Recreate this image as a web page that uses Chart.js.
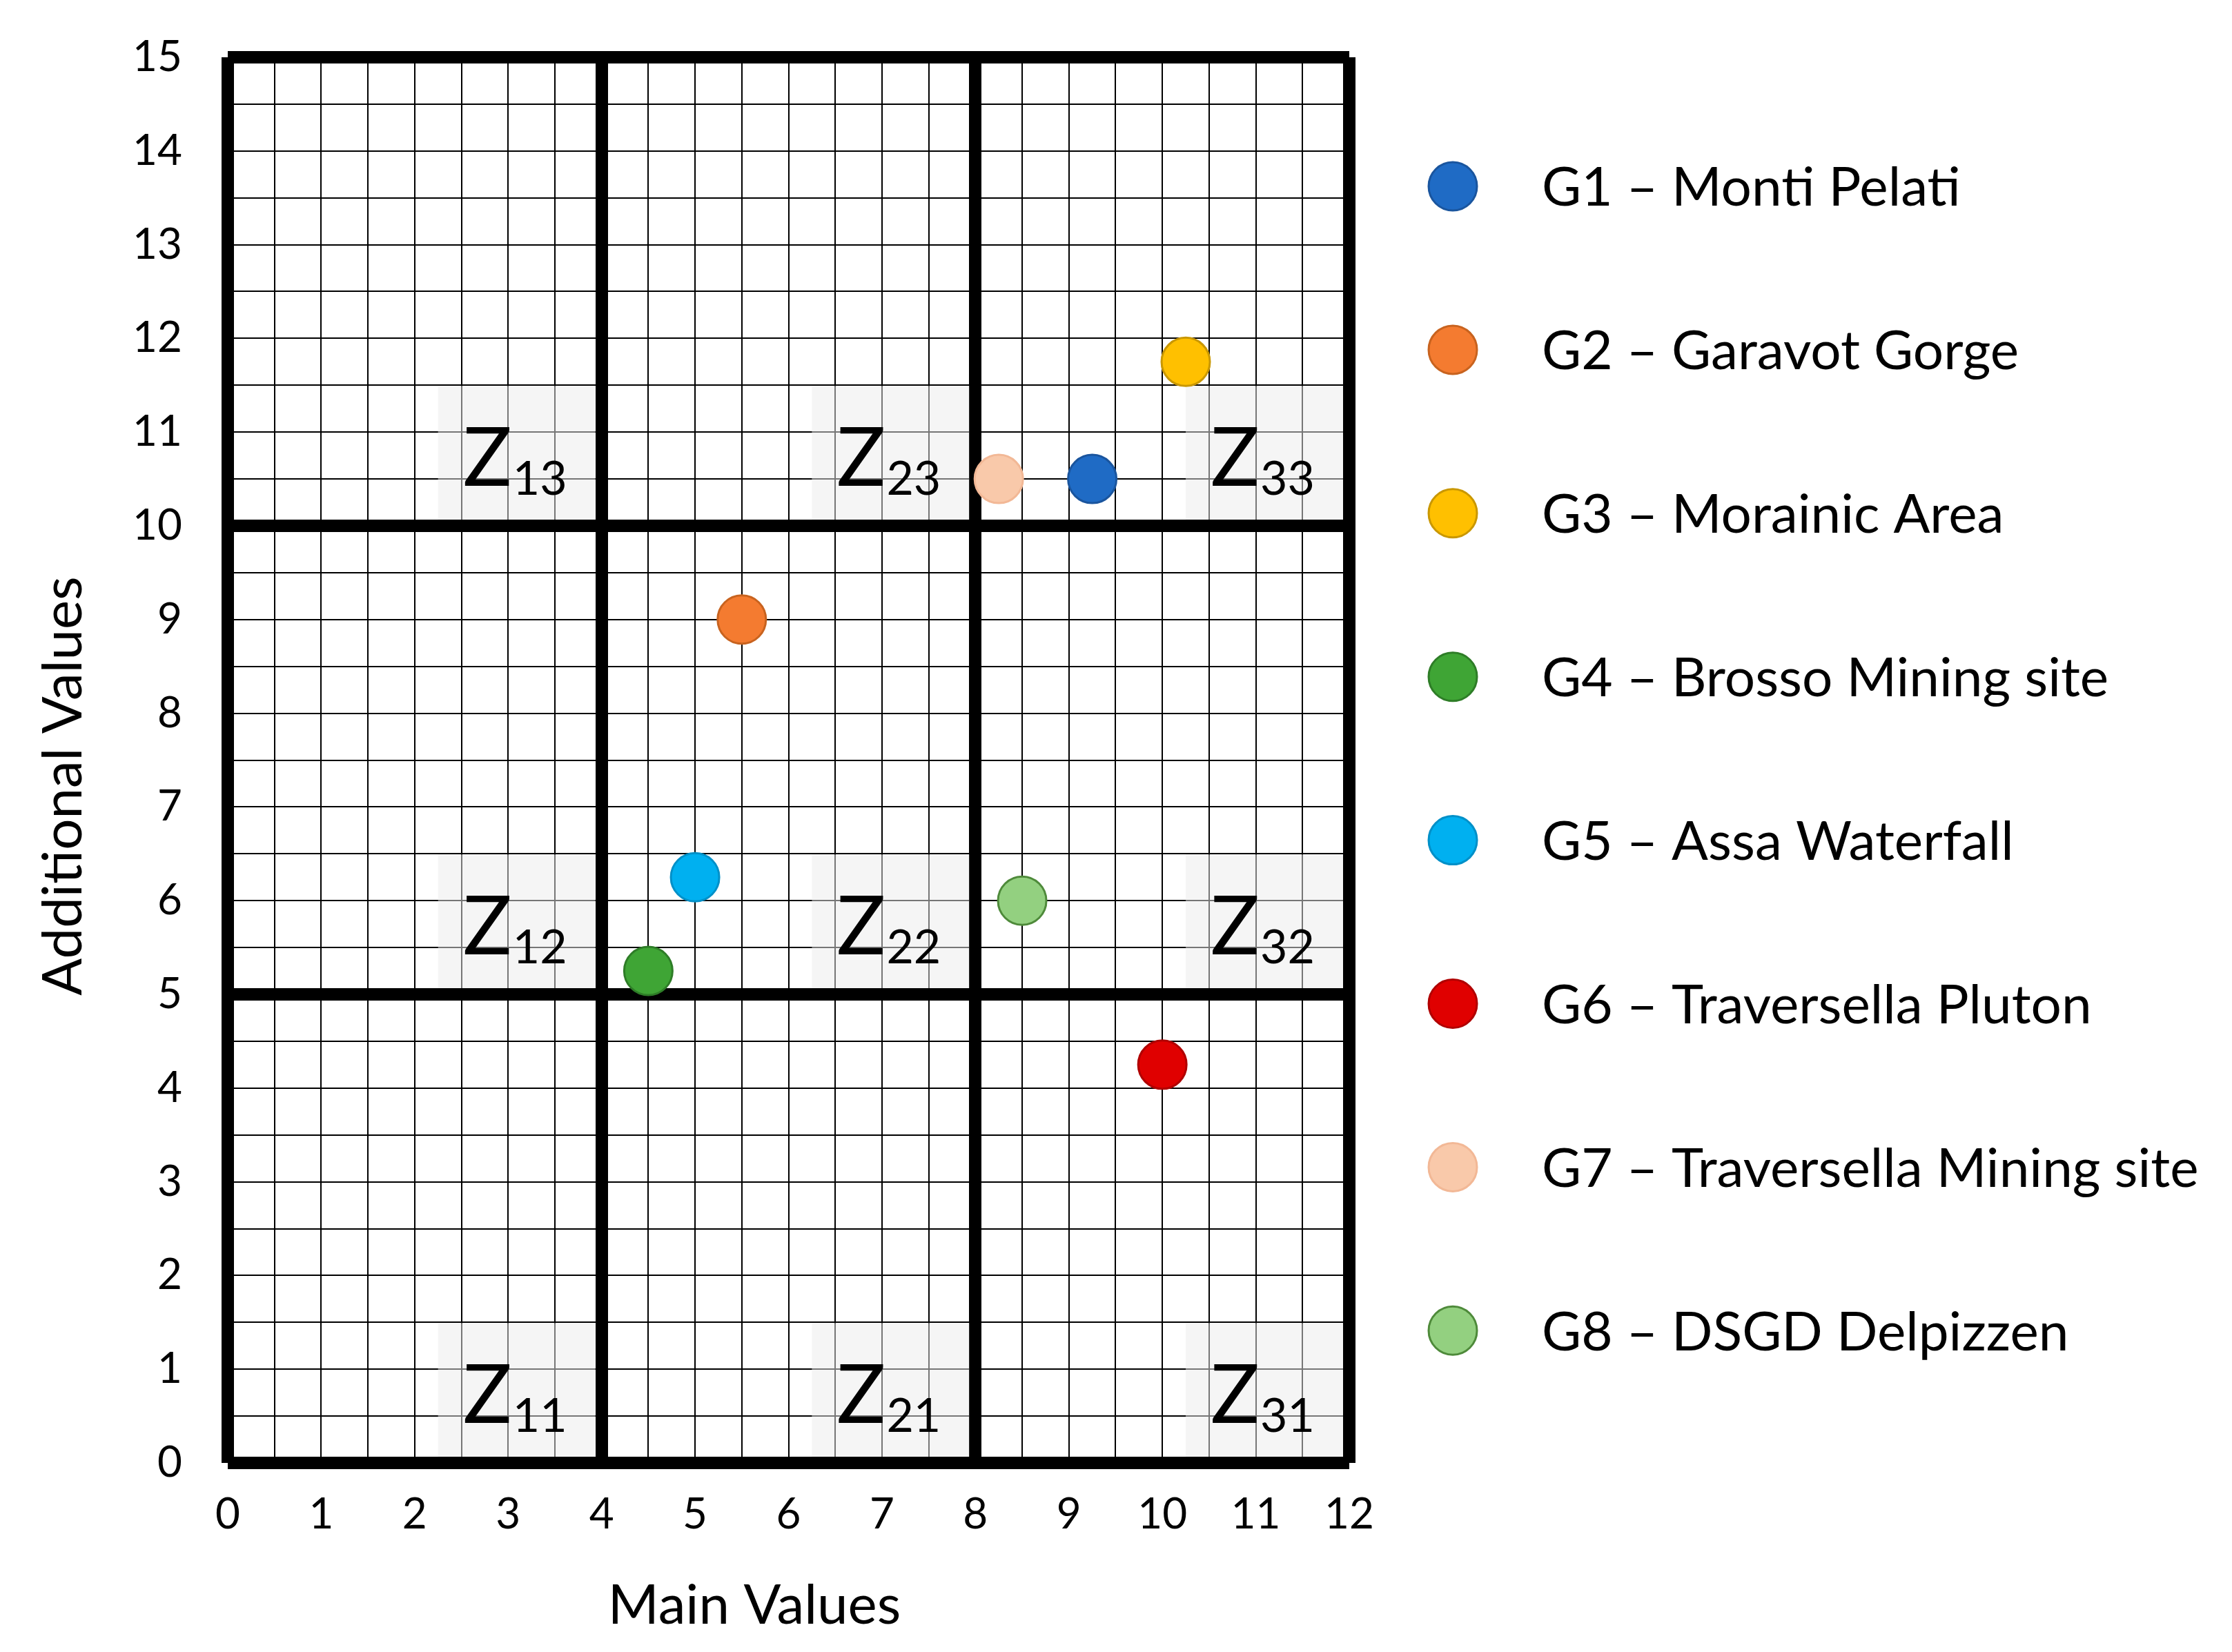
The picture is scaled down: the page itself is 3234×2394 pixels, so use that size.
<!DOCTYPE html>
<html><head><meta charset="utf-8">
<script src="https://cdn.jsdelivr.net/npm/chart.js@4"></script>
<style>html,body{margin:0;padding:0;background:#fff;overflow:hidden}canvas{display:block}</style>
</head><body>
<canvas id="c" width="3234" height="2394"></canvas>
<script>
// ---- data ----
const seriesNames = ['G1 – Monti Pelati','G2 – Garavot Gorge','G3 – Morainic Area','G4 – Brosso Mining site','G5 – Assa Waterfall','G6 – Traversella Pluton','G7 – Traversella Mining site','G8 – DSGD Delpizzen'];
const seriesX = [9.25, 5.5, 10.25, 4.5, 5.0, 10.0, 8.25, 8.5];
const seriesY = [10.5, 9.0, 11.75, 5.25, 6.25, 4.25, 10.5, 6.0];
const fillColors = ['#1F6BC5','#F47B30','#FFC000','#3FA535','#00B0F0','#E00000','#F9C9AA','#93D080'];
const borderColors = ['#1A559E','#C8631F','#C99700','#2E7D27','#0090C8','#B00000','#F2B896','#4E8A3A'];
const xTickValues = [0,1,2,3,4,5,6,7,8,9,10,11,12];
const yTickValues = [0,1,2,3,4,5,6,7,8,9,10,11,12,13,14,15];
const majorX = [0,4,8,12];
const majorY = [0,5,10,15];
const zoneCols = [1,2,3];
const zoneRows = [1,2,3];
const xTitle = 'Main Values';
const yTitle = 'Additional Values';

const FONT = 'Lato';
const AREA = { left: 330, top: 83, right: 1955, bottom: 2120 };
const mctx = document.createElement('canvas').getContext('2d');
function fitSize(text, target){ mctx.font = '100px ' + FONT; return 100 * target / mctx.measureText(text).width; }
const legendSize = fitSize(seriesNames[6], 952);
const titleSize = (fitSize(xTitle, 424) + fitSize(yTitle, 608)) / 2;

const datasets = seriesNames.map((n,i)=>({
  label: n,
  data: [{x: seriesX[i], y: seriesY[i]}],
  backgroundColor: fillColors[i],
  borderColor: borderColors[i],
  borderWidth: 3,
  pointRadius: 35,
  pointHoverRadius: 35
}));

const zonePlugin = {
  id: 'zones',
  beforeDatasetsDraw(chart){
    const {ctx, scales:{x, y}} = chart;
    ctx.save();
    zoneCols.forEach((c,ci)=>{
      zoneRows.forEach((r,ri)=>{
        const xEnd = majorX[ci+1], yStart = majorY[ri];
        const x0 = x.getPixelForValue(xEnd - 1.75), x1 = x.getPixelForValue(xEnd) - 9;
        const y0 = y.getPixelForValue(yStart + 1.5) + 1, y1 = y.getPixelForValue(yStart) - 9;
        ctx.fillStyle = 'rgba(235,235,235,0.5)';
        ctx.fillRect(x0, y0, x1 - x0, y1 - y0);
        ctx.fillStyle = '#000';
        ctx.textAlign = 'left';
        ctx.textBaseline = 'alphabetic';
        const zx = x0 + 36, zy = y.getPixelForValue(yStart) - 58;
        ctx.font = '118px ' + FONT;
        ctx.fillText('Z', zx, zy);
        const zw = ctx.measureText('Z').width;
        ctx.font = '68px ' + FONT;
        ctx.fillText(String(c) + String(r), zx + zw + 1, zy + 13);
      });
    });
    ctx.restore();
  }
};

const sidePlugin = {
  id: 'sideLegendAndTitles',
  afterDraw(chart){
    const ctx = chart.ctx;
    ctx.save();
    chart.data.datasets.forEach((ds,i)=>{
      const cy = 270 + i * 236.9;
      ctx.beginPath();
      ctx.arc(2105, cy, 35, 0, Math.PI*2);
      ctx.fillStyle = ds.backgroundColor; ctx.fill();
      ctx.lineWidth = 3; ctx.strokeStyle = ds.borderColor; ctx.stroke();
      ctx.fillStyle = '#000';
      ctx.font = legendSize.toFixed(1) + 'px ' + FONT;
      ctx.textAlign = 'left'; ctx.textBaseline = 'alphabetic';
      ctx.fillText(ds.label, 2234, cy + 0.36 * legendSize);
    });
    // axis titles
    ctx.fillStyle = '#000';
    ctx.font = titleSize.toFixed(1) + 'px ' + FONT;
    ctx.textAlign = 'center'; ctx.textBaseline = 'alphabetic';
    ctx.fillText(xTitle, 1093, 2324 + 0.36 * titleSize);
    ctx.translate(89 + 0.36 * titleSize, 1139);
    ctx.rotate(-Math.PI / 2);
    ctx.fillText(yTitle, 0, 0);
    ctx.restore();
  }
};

function gridWidth(majors){
  return (c) => (c.tick && majors.includes(c.tick.value)) ? 18 : 2;
}

const chart = new Chart(document.getElementById('c'), {
  type: 'scatter',
  data: { datasets },
  plugins: [zonePlugin, sidePlugin],
  options: {
    responsive: false,
    devicePixelRatio: 1,
    animation: false,
    layout: { padding: { top: 83, right: 1279, left: 0, bottom: 0 } },
    plugins: { legend: { display: false }, tooltip: { enabled: false } },
    scales: {
      x: {
        type: 'linear', min: 0, max: 12,
        afterFit: s => { s.height = 274; },
        afterBuildTicks: s => { s.ticks = []; for (let v = 0; v <= 12; v += 0.5) s.ticks.push({value: v}); },
        ticks: {
          autoSkip: false, maxRotation: 0, padding: 6, color: '#000',
          font: { family: FONT, size: 62 },
          callback: v => xTickValues.includes(v) ? String(v) : ''
        },
        grid: { color: '#000', lineWidth: gridWidth(majorX), drawTicks: true, tickLength: 32, tickColor: 'rgba(0,0,0,0)' },
        border: { display: false }
      },
      y: {
        type: 'linear', min: 0, max: 15,
        afterFit: s => { s.width = 330; },
        afterBuildTicks: s => { s.ticks = []; for (let v = 0; v <= 15; v += 0.5) s.ticks.push({value: v}); },
        ticks: {
          autoSkip: false, padding: 6, color: '#000',
          font: { family: FONT, size: 62 },
          callback: v => yTickValues.includes(v) ? String(v) : ''
        },
        grid: { color: '#000', lineWidth: gridWidth(majorY), drawTicks: true, tickLength: 60, tickColor: 'rgba(0,0,0,0)' },
        border: { display: false }
      }
    }
  }
});

// nudge the layout padding so the plot area lands where the reference has it
for (let k = 0; k < 3; k++) {
  const a = chart.chartArea, p = chart.config.options.layout.padding;
  const dt = AREA.top - a.top, db = a.bottom - AREA.bottom, dr = a.right - AREA.right;
  if (Math.abs(dt) < 0.5 && Math.abs(db) < 0.5 && Math.abs(dr) < 0.5) break;
  p.top = Math.max(0, p.top + dt);
  p.bottom = Math.max(0, p.bottom + db);
  p.right = Math.max(0, p.right + dr);
  chart.update();
}
</script>
</body></html>
